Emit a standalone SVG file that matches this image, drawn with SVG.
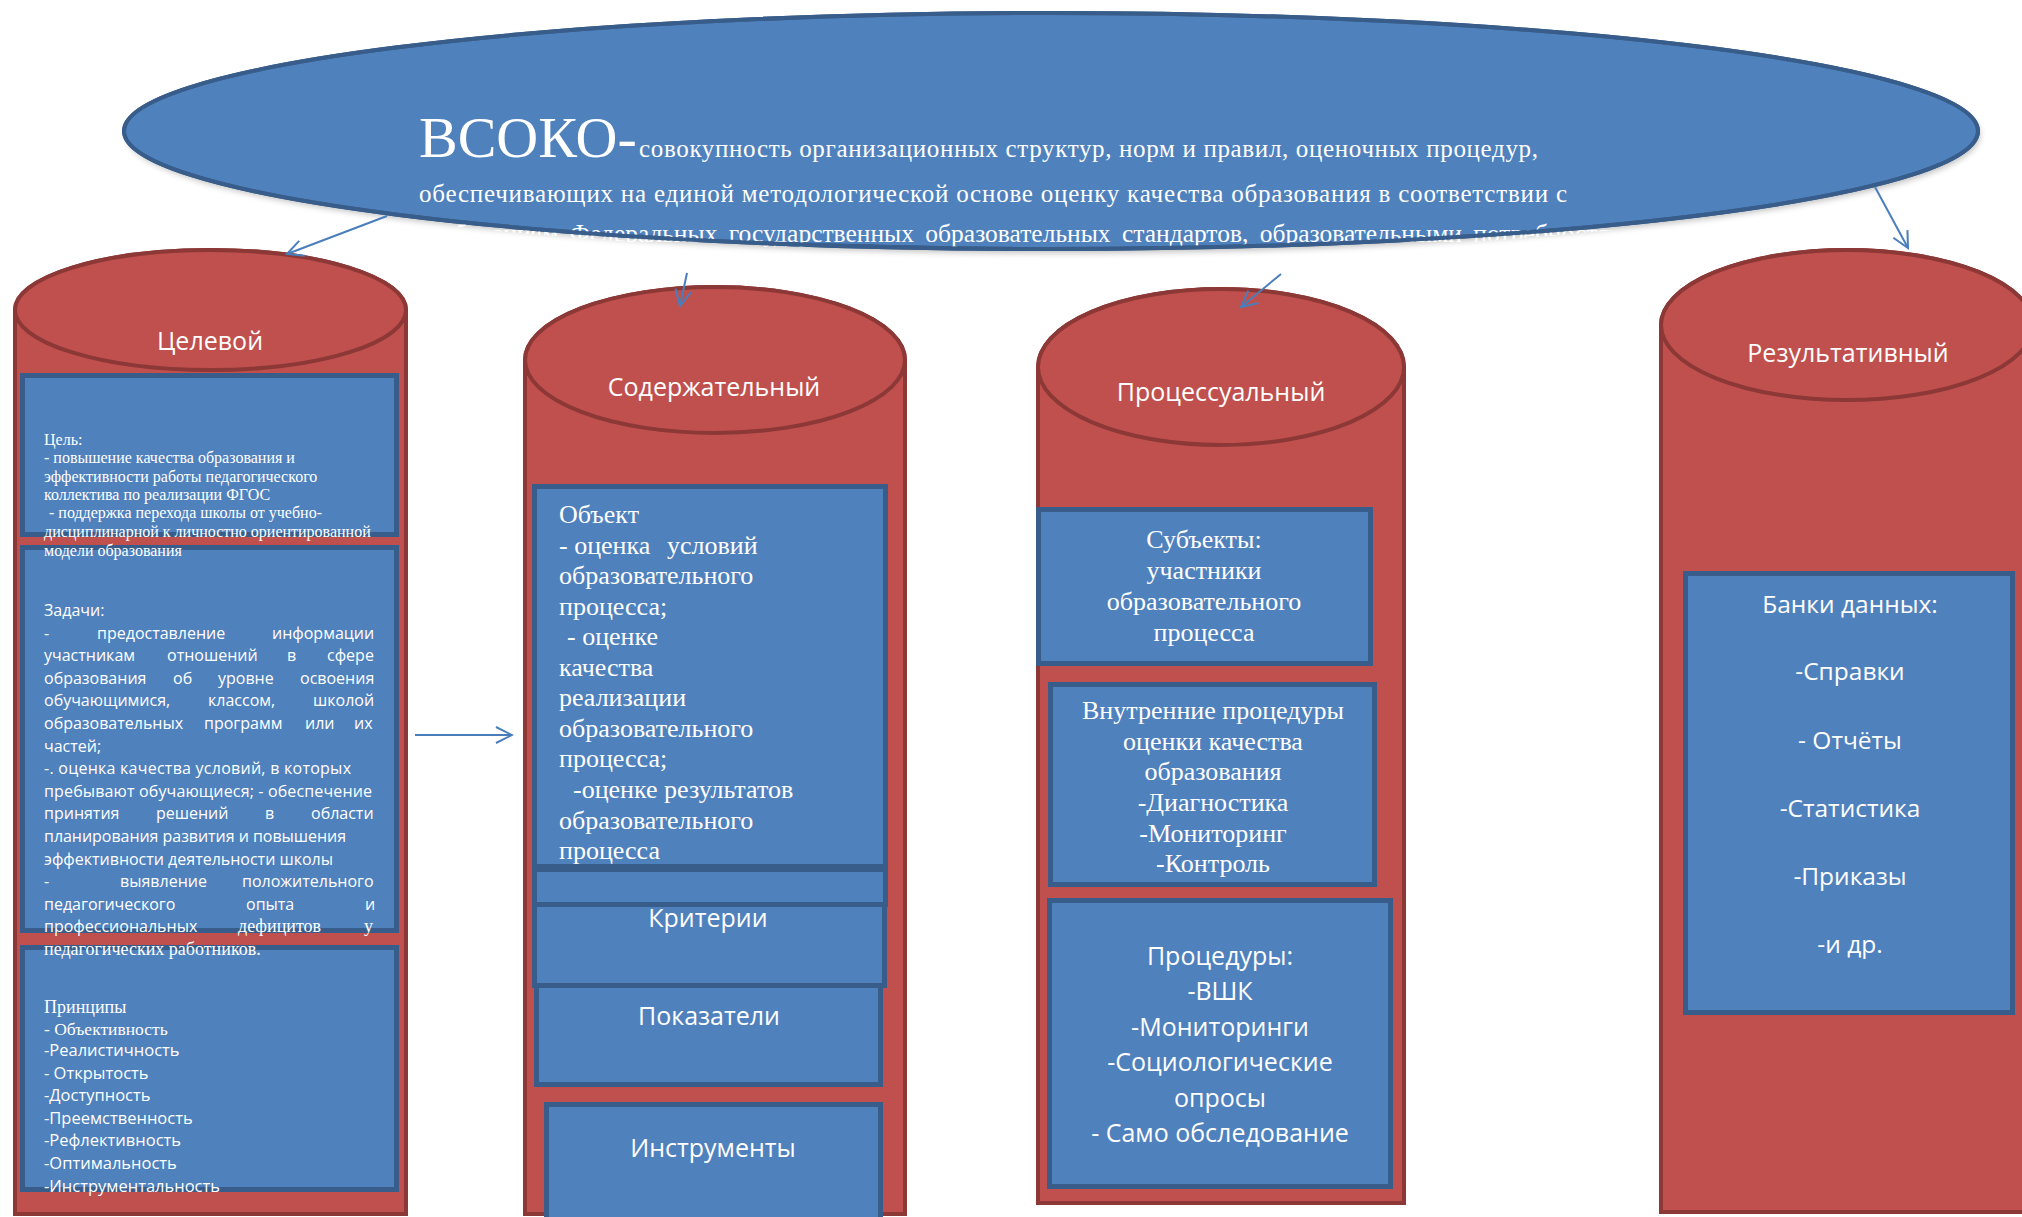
<svg xmlns="http://www.w3.org/2000/svg" width="2022" height="1217" viewBox="0 0 2022 1217">
<style>
.cyl{fill:#c0504d;stroke:#8c3836;stroke-width:4}
.box{fill:#4f81bd;stroke:#385d8a;stroke-width:5}
.sans{font-family:"Open Sans","Noto Sans","DejaVu Sans",sans-serif;fill:#fff}
.serif{font-family:"Liberation Serif","Times New Roman",serif;fill:#fff}
.ttl{font-size:25px;text-anchor:middle}
.mid{text-anchor:middle}
.conn{stroke:#4a7ebb;stroke-width:2;fill:none;marker-end:url(#arr)}
</style>
<defs>
<marker id="arr" viewBox="-20 -10 22 20" refX="0" refY="0" markerWidth="22" markerHeight="20" markerUnits="userSpaceOnUse" orient="auto">
<path d="M-16,-8 L0,0 L-16,8" fill="none" stroke="#4a7ebb" stroke-width="2"/>
</marker>
<clipPath id="ellClip"><ellipse cx="1051" cy="134" rx="928" ry="121"/></clipPath>
<filter id="sh" x="-5%" y="-20%" width="110%" height="150%"><feGaussianBlur stdDeviation="3"/></filter>
</defs>

<g id="vsoko">
<ellipse cx="1053" cy="135" rx="927" ry="118" fill="#000" opacity="0.25" filter="url(#sh)"/>
<ellipse cx="1051" cy="131" rx="927" ry="118" fill="#4f81bd" stroke="#385d8a" stroke-width="4"/>
<text class="serif" x="419" y="157" font-size="58">ВСОКО-</text>
<text class="serif" x="639" y="157" font-size="25" textLength="899">совокупность организационных структур, норм и правил, оценочных процедур,</text>
<text class="serif" x="419" y="202" font-size="25" textLength="1148">обеспечивающих на единой методологической основе оценку качества образования в соответствии с</text>
<text class="serif" x="419" y="242" font-size="25.5" word-spacing="5" clip-path="url(#ellClip)">требованиям Федеральных государственных образовательных стандартов, образовательными потребностями</text>
<ellipse cx="1051" cy="131" rx="927" ry="118" fill="none" stroke="#385d8a" stroke-width="4"/>
</g>

<g id="celevoy">
<path class="cyl" d="M15,310 L15,1214 L406,1214 L406,310 A195.5,60 0 0 0 15,310 Z"/>
<ellipse class="cyl" cx="210.5" cy="310" rx="195.5" ry="60"/>
<text class="sans ttl" x="210" y="350">Целевой</text>
<rect class="box" x="22.5" y="375.5" width="374" height="159"/>
<rect class="box" x="22.5" y="547.5" width="374" height="383"/>
<rect class="box" x="22.5" y="947.5" width="374" height="242"/>
<g class="serif" font-size="16">
<text x="44" y="445">Цель:</text>
<text x="44" y="463">- повышение качества образования и</text>
<text x="44" y="482">эффективности работы педагогического</text>
<text x="44" y="500">коллектива по реализации ФГОС</text>
<text x="49" y="518">- поддержка перехода школы от учебно-</text>
<text x="44" y="537">дисциплинарной к личностно ориентированной</text>
<text x="44" y="556">модели образования</text>
</g>
<g class="sans" font-size="16">
<text x="44" y="616">Задачи:</text>
<text y="638.6"><tspan x="44">-</tspan><tspan x="97">предоставление</tspan><tspan x="272">информации</tspan></text>
<text y="661.2"><tspan x="44">участникам</tspan><tspan x="167">отношений</tspan><tspan x="287">в</tspan><tspan x="327">сфере</tspan></text>
<text y="683.8"><tspan x="44">образования</tspan><tspan x="173">об</tspan><tspan x="218">уровне</tspan><tspan x="300">освоения</tspan></text>
<text y="706.4"><tspan x="44">обучающимися,</tspan><tspan x="208">классом,</tspan><tspan x="313">школой</tspan></text>
<text y="729"><tspan x="44">образовательных</tspan><tspan x="204">программ</tspan><tspan x="305">или</tspan><tspan x="354">их</tspan></text>
<text x="44" y="751.6">частей;</text>
<text x="44" y="774.2" textLength="307">-. оценка качества условий, в которых</text>
<text x="44" y="796.8" textLength="328">пребывают обучающиеся; - обеспечение</text>
<text y="819.4"><tspan x="44">принятия</tspan><tspan x="156">решений</tspan><tspan x="265">в</tspan><tspan x="311">области</tspan></text>
<text x="44" y="842" textLength="302">планирования развития и повышения</text>
<text x="44" y="864.6" textLength="289">эффективности деятельности школы</text>
<text y="887.2"><tspan x="44">-</tspan><tspan x="120">выявление</tspan><tspan x="242">положительного</tspan></text>
<text y="909.8"><tspan x="44">педагогического</tspan><tspan x="246">опыта</tspan><tspan x="365">и</tspan></text>
<text x="44" y="932.4">профессиональных</text>
</g>
<g class="serif" font-size="18">
<text y="932.4"><tspan x="238">дефицитов</tspan><tspan x="364">у</tspan></text>
<text x="44" y="955">педагогических работников.</text>
<text x="44" y="1013">Принципы</text>
<text x="44" y="1035" font-size="17.5">- Объективность</text>
</g>
<g class="sans" font-size="16.5">
<text x="44" y="1056">-Реалистичность</text>
<text x="44" y="1078.6">- Открытость</text>
<text x="44" y="1101.2">-Доступность</text>
<text x="44" y="1123.8">-Преемственность</text>
<text x="44" y="1146.4">-Рефлективность</text>
<text x="44" y="1169">-Оптимальность</text>
<text x="44" y="1191.6">-Инструментальность</text>
</g>
</g>

<g id="soderzhatelny">
<path class="cyl" d="M525,360 L525,1214 L905,1214 L905,360 A190,73 0 0 0 525,360 Z"/>
<ellipse class="cyl" cx="715" cy="360" rx="190" ry="73"/>
<text class="sans ttl" x="714" y="396">Содержательный</text>
<rect class="box" x="534.5" y="486.5" width="351" height="380"/>
<rect class="box" x="536.5" y="985.5" width="344" height="99"/>
<rect class="box" x="534.5" y="872" width="350" height="113.5"/>
<rect class="box" x="534.5" y="869.5" width="351" height="35"/>
<rect class="box" x="546.5" y="1104.5" width="334" height="150"/>
<g class="serif" font-size="26">
<text x="559" y="523">Объект</text>
<text y="553.5"><tspan x="559">- оценка</tspan><tspan x="667">условий</tspan></text>
<text x="559" y="584">образовательного</text>
<text x="559" y="614.6">процесса;</text>
<text x="567" y="645.2">- оценке</text>
<text x="559" y="675.7">качества</text>
<text x="559" y="706.3">реализации</text>
<text x="559" y="736.8">образовательного</text>
<text x="559" y="767.4">процесса;</text>
<text x="573" y="798">-оценке результатов</text>
<text x="559" y="828.5">образовательного</text>
<text x="559" y="859">процесса</text>
</g>
<text class="sans ttl" x="708" y="927">Критерии</text>
<text class="sans ttl" x="709" y="1025">Показатели</text>
<text class="sans ttl" x="713" y="1157">Инструменты</text>
</g>

<g id="processualny">
<path class="cyl" d="M1038,367 L1038,1203 L1404,1203 L1404,367 A183,78 0 0 0 1038,367 Z"/>
<ellipse class="cyl" cx="1221" cy="367" rx="183" ry="78"/>
<text class="sans ttl" x="1221" y="401">Процессуальный</text>
<rect class="box" x="1038.5" y="509.5" width="332" height="154"/>
<rect class="box" x="1050.5" y="684.5" width="324" height="200"/>
<rect class="box" x="1049.5" y="900.5" width="341" height="286"/>
<g class="serif mid" font-size="26">
<text x="1204" y="548">Субъекты:</text>
<text x="1204" y="579">участники</text>
<text x="1204" y="610">образовательного</text>
<text x="1204" y="641">процесса</text>
<text x="1213" y="719">Внутренние процедуры</text>
<text x="1213" y="750">оценки качества</text>
<text x="1213" y="780">образования</text>
<text x="1213" y="811">-Диагностика</text>
<text x="1213" y="842">-Мониторинг</text>
<text x="1213" y="872">-Контроль</text>
</g>
<g class="sans mid" font-size="25">
<text x="1220" y="965">Процедуры:</text>
<text x="1220" y="1000">-ВШК</text>
<text x="1220" y="1036">-Мониторинги</text>
<text x="1220" y="1071">-Социологические</text>
<text x="1220" y="1107">опросы</text>
<text x="1220" y="1142">- Само обследование</text>
</g>
</g>

<g id="rezultativny">
<path class="cyl" d="M1661,325 L1661,1212 L2033,1212 L2033,325 A186,75 0 0 0 1661,325 Z"/>
<ellipse class="cyl" cx="1847" cy="325" rx="186" ry="75"/>
<text class="sans ttl" x="1848" y="362">Результативный</text>
<rect class="box" x="1685.5" y="573.5" width="327" height="439"/>
<g class="sans mid" font-size="24.5">
<text x="1850" y="613">Банки данных:</text>
<text x="1850" y="680">-Справки</text>
<text x="1850" y="749">- Отчёты</text>
<text x="1850" y="817">-Статистика</text>
<text x="1850" y="885">-Приказы</text>
<text x="1850" y="953">-и др.</text>
</g>
</g>

<g id="connectors">
<line class="conn" x1="387" y1="216" x2="287" y2="254"/>
<line class="conn" x1="687" y1="273" x2="680" y2="306"/>
<line class="conn" x1="1281" y1="274" x2="1241" y2="307"/>
<line class="conn" x1="1875" y1="187" x2="1908" y2="248"/>
<line class="conn" x1="415" y1="735" x2="512" y2="735"/>
</g>
</svg>
